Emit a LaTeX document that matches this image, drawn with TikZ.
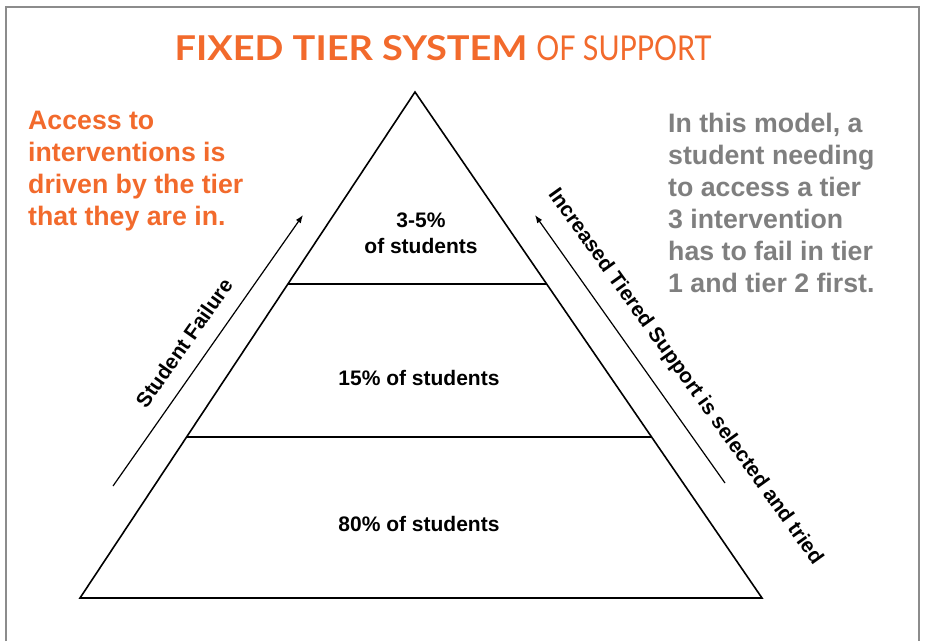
\documentclass[tikz,border=0pt]{standalone}
\usepackage{fontspec}
\setmainfont{Liberation Sans}
\newfontfamily\titlefont{Lato}
\newfontfamily\titlewide[FakeStretch=1.11]{Lato}
\newfontfamily\titlenarrow[FakeStretch=0.84]{Lato}
\usetikzlibrary{arrows.meta,calc}
\definecolor{tierorange}{HTML}{F26A2C}
\definecolor{notegray}{HTML}{7F7F7F}
\definecolor{framegray}{HTML}{8C8C8C}
\tikzset{
  tierline/.style={line width=1.6pt, black},
  flowarrow/.style={line width=1.2pt, -{Latex[length=8pt,width=6pt]}},
  tierlabel/.style={font=\fontsize{21}{26}\selectfont\bfseries, align=center, inner sep=0pt},
  sidelabel/.style={font=\fontsize{20.8}{24}\selectfont\bfseries, inner sep=0pt},
  notetext/.style={font=\fontsize{26.7}{32}\selectfont\bfseries, align=left, inner sep=0pt, anchor=north west}
}
\begin{document}
\begin{tikzpicture}[x=1pt,y=-1pt]
\useasboundingbox (0,0) rectangle (925,641);
% frame
\draw[framegray, line width=2pt] (6,641) -- (6,7) -- (919,7) -- (919,641);

% title
\node[inner sep=0pt, text=tierorange, font=\fontsize{34.2}{38}\selectfont] (title) at (443,48)
  {{\titlewide\bfseries FIXED TIER SYSTEM}\hspace{9pt}{\titlenarrow OF SUPPORT}};

% pyramid
\coordinate (apex) at (415,92);
\coordinate (bl) at (80,598);
\coordinate (br) at (762,598);
\coordinate (l1) at ($(apex)!0.3794!(bl)$);
\coordinate (r1) at ($(apex)!0.3794!(br)$);
\coordinate (l2) at ($(apex)!0.6818!(bl)$);
\coordinate (r2) at ($(apex)!0.6818!(br)$);
\draw[tierline, line join=miter] (apex) -- (bl) -- (br) -- cycle;
\draw[tierline] (l1) -- (r1);
\draw[tierline] (l2) -- (r2);

% tier labels
\node[tierlabel] (t3) at (421,233) {3-5\%\\of students};
\node[tierlabel] (t2) at (419,378) {15\% of students};
\node[tierlabel] (t1) at (419,524) {80\% of students};

% side arrows
\coordinate (sfa) at (113,486);
\coordinate (sfb) at (303,215);
\draw[flowarrow] (sfa) -- (sfb);
\node[sidelabel, rotate=54.8] (sf) at (184,343) {Student Failure};

\coordinate (isa) at (725,483);
\coordinate (isb) at (535,215);
\draw[flowarrow] (isa) -- (isb);
\node[sidelabel, rotate=-54.4] (is) at (685,377) {Increased Tiered Support is selected and tried};

% notes
\node[notetext, text=tierorange] (access) at (28,111)
  {Access to\\interventions is\\driven by the tier\\that they are in.};
\node[notetext, text=notegray] (model) at (668,113)
  {In this model, a\\student needing\\to access a tier\\3 intervention\\has to fail in tier\\1 and tier 2 first.};
\end{tikzpicture}
\end{document}
